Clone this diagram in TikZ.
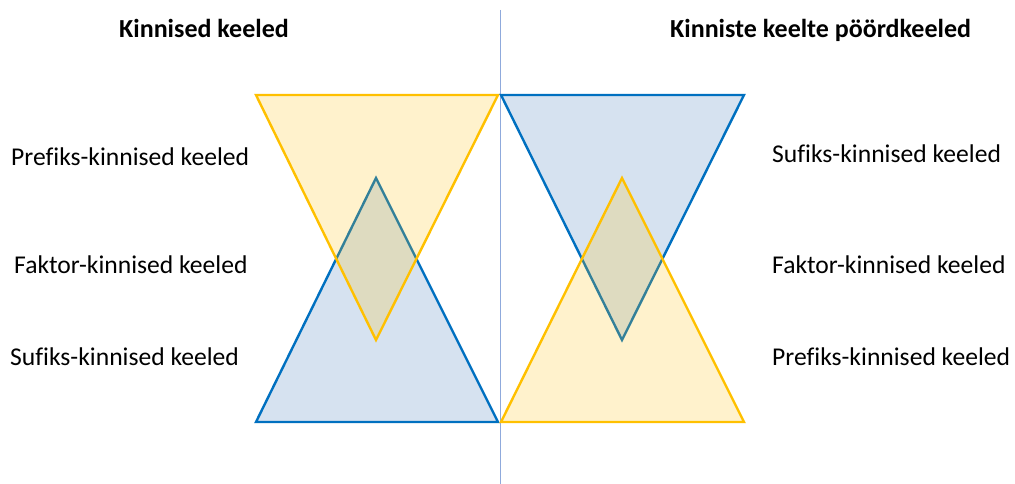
\documentclass[tikz,border=0pt]{standalone}
\usepackage{fontspec}
\setmainfont[Ligatures=NoCommon]{Carlito}
\usetikzlibrary{positioning}
\definecolor{gold}{HTML}{FFC000}
\definecolor{ocean}{HTML}{0070C0}
\definecolor{oceanfill}{RGB}{214,226,240}
\definecolor{divider}{HTML}{8FAADC}

\begin{document}
\begin{tikzpicture}[x=1pt,y=-1pt,
   langlabel/.style={font=\fontsize{25.6}{30}\selectfont,anchor=base west,inner sep=0pt},
   heading/.style={font=\fontsize{26}{30}\selectfont\bfseries,anchor=base west,inner sep=0pt},
   bluetri/.style={draw=ocean,line width=2.4pt,fill=oceanfill,line join=miter},
   goldtri/.style={draw=gold,line width=2.4pt,fill=gold,fill opacity=0.2,line join=miter}]
  \useasboundingbox (0,0) rectangle (1015,484);

  % divider
  \coordinate (divtop) at (500,10);
  \coordinate (divbot) at (500,484);
  \draw[divider,line width=1pt] (divtop) -- (divbot);

  % headings
  \node[heading] (lefthead)  at (119,38) {Kinnised keeled};
  \node[heading] (righthead) at (670,38) {Kinniste keelte pöördkeeled};

  % left pair
  \draw[bluetri] (256,422) -- (498,422) -- (376,178) -- cycle;
  \draw[goldtri] (256,95) -- (498,95) -- (376,340) -- cycle;

  % right pair
  \draw[bluetri] (501,95) -- (744,95) -- (622,340) -- cycle;
  \draw[goldtri] (501,422) -- (744,422) -- (622,178) -- cycle;

  % labels
  \node[langlabel] (lpre) at (11,165) {Prefiks-kinnised keeled};
  \node[langlabel] (lfak) at (14,273) {Faktor-kinnised keeled};
  \node[langlabel] (lsuf) at (10,365) {Sufiks-kinnised keeled};
  \node[langlabel] (rsuf) at (772,163) {Sufiks-kinnised keeled};
  \node[langlabel] (rfak) at (772,273) {Faktor-kinnised keeled};
  \node[langlabel] (rpre) at (772,365) {Prefiks-kinnised keeled};
\end{tikzpicture}
\end{document}
